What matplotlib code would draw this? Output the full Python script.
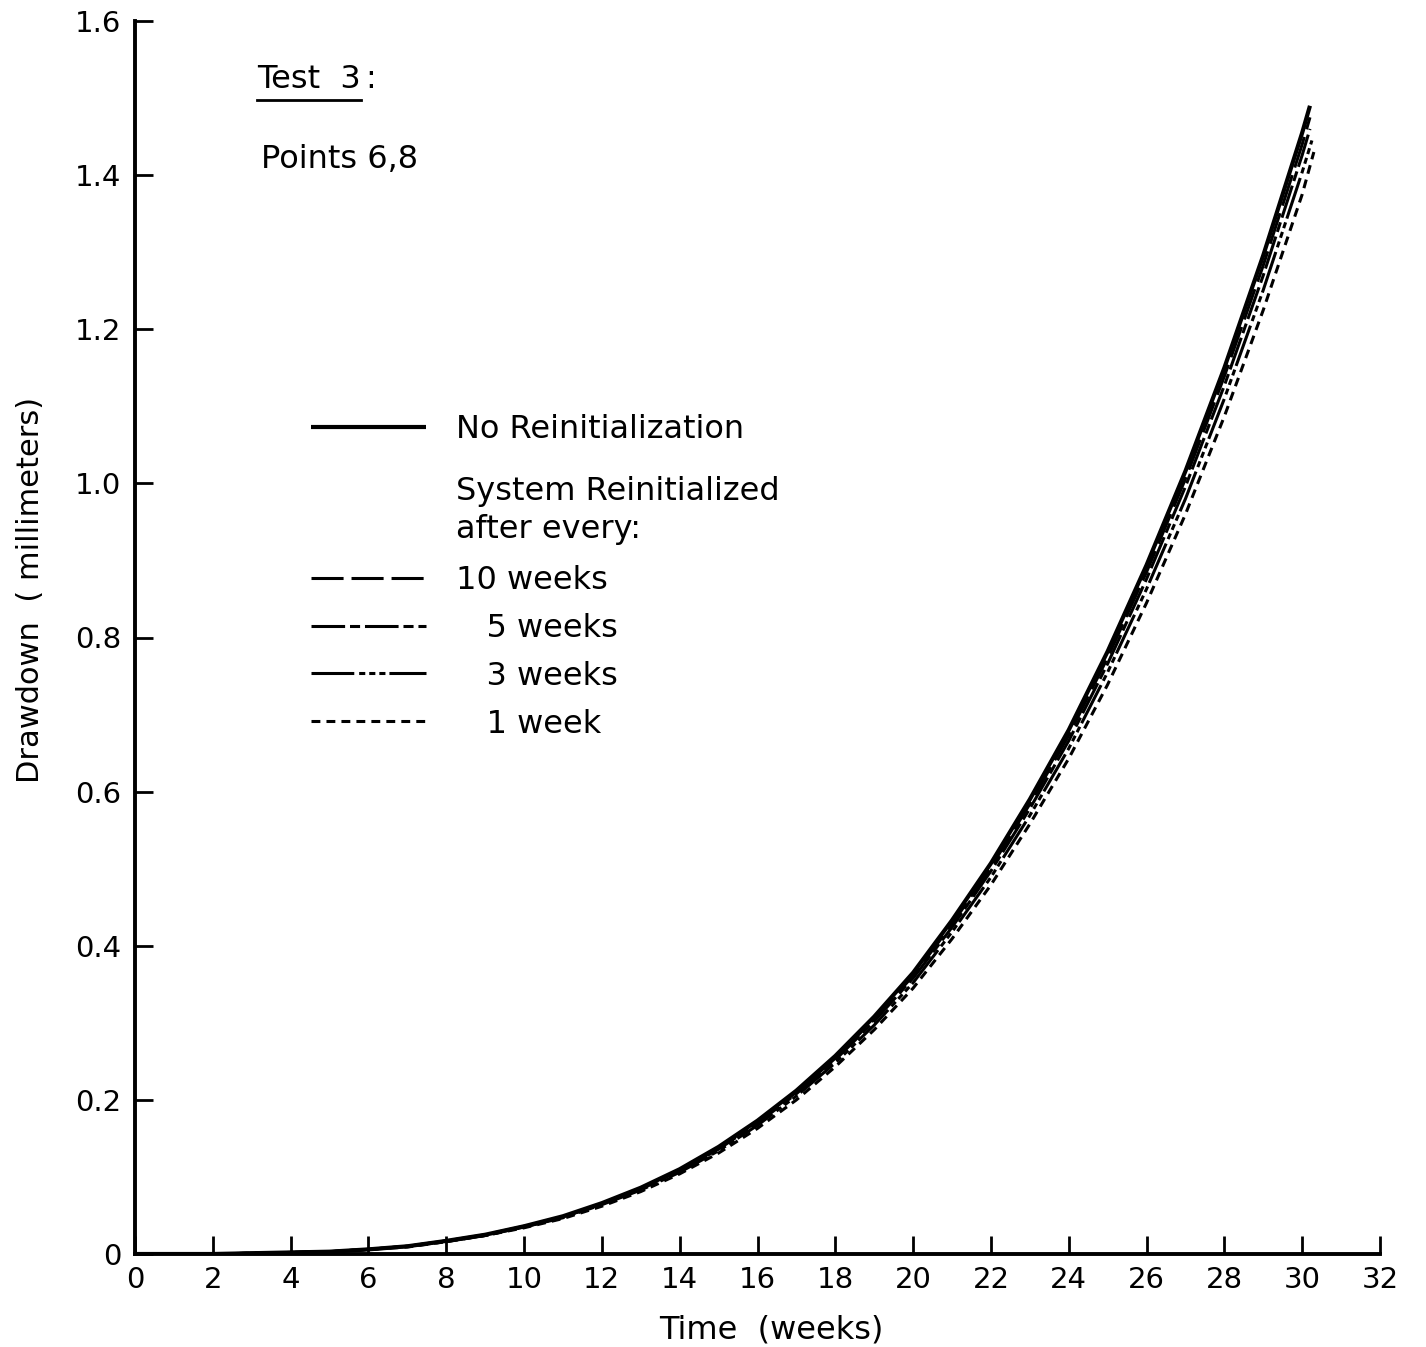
import matplotlib
matplotlib.use('Agg')
import matplotlib.pyplot as plt
from matplotlib.lines import Line2D

#%% ------------------------------- ###
###            0. Data              ###
### ------------------------------- ###

# time in weeks (readings every week, last point is where the curve stops)
weeks = [0, 1, 2, 3, 4, 5, 6, 7, 8, 9, 10, 11, 12, 13, 14, 15, 16, 17, 18, 19,
         20, 21, 22, 23, 24, 25, 26, 27, 28, 29, 30]

# drawdown in millimeters
no_reinit = [0.000, 0.000, 0.000, 0.001, 0.002, 0.003, 0.006, 0.010, 0.017, 0.025,
             0.036, 0.049, 0.066, 0.086, 0.110, 0.139, 0.173, 0.212, 0.257, 0.308,
             0.365, 0.433, 0.507, 0.590, 0.680, 0.782, 0.894, 1.016, 1.150, 1.296,
             1.455]
reinit_10 = [0.000, 0.000, 0.000, 0.001, 0.002, 0.003, 0.006, 0.010, 0.017, 0.025,
             0.036, 0.048, 0.065, 0.085, 0.109, 0.138, 0.171, 0.210, 0.254, 0.305,
             0.361, 0.428, 0.502, 0.584, 0.673, 0.774, 0.885, 1.006, 1.139, 1.283,
             1.440]
reinit_5 = [0.000, 0.000, 0.000, 0.001, 0.002, 0.003, 0.006, 0.010, 0.017, 0.024,
            0.035, 0.048, 0.065, 0.084, 0.108, 0.136, 0.170, 0.208, 0.252, 0.302,
            0.358, 0.424, 0.497, 0.578, 0.666, 0.766, 0.876, 0.996, 1.127, 1.270,
            1.426]
reinit_3 = [0.000, 0.000, 0.000, 0.001, 0.002, 0.003, 0.006, 0.010, 0.016, 0.024,
            0.035, 0.047, 0.064, 0.083, 0.106, 0.134, 0.167, 0.205, 0.248, 0.297,
            0.352, 0.418, 0.489, 0.569, 0.656, 0.755, 0.863, 0.980, 1.110, 1.251,
            1.404]
reinit_1 = [0.000, 0.000, 0.000, 0.001, 0.002, 0.003, 0.006, 0.009, 0.016, 0.024,
            0.034, 0.046, 0.062, 0.081, 0.104, 0.131, 0.163, 0.200, 0.243, 0.291,
            0.345, 0.409, 0.479, 0.558, 0.643, 0.739, 0.845, 0.960, 1.087, 1.225,
            1.375]

# end points of each curve (time, drawdown)
end_no_reinit = (30.2, 1.490)
end_10 = (30.2, 1.475)
end_5 = (30.2, 1.460)
end_3 = (30.25, 1.445)
end_1 = (30.3, 1.430)

x_ticks = list(range(0, 33, 2))
y_ticks = [0, 0.2, 0.4, 0.6, 0.8, 1.0, 1.2, 1.4, 1.6]
y_tick_labels = ['0', '0.2', '0.4', '0.6', '0.8', '1.0', '1.2', '1.4', '1.6']

#%% ------------------------------- ###
###            1. Plot              ###
### ------------------------------- ###

plt.rcParams['font.family'] = ['DejaVu Sans']
fs = 23

W, H = 1426, 1347
fig = plt.figure(figsize=(W / 100, H / 100), dpi=100)

x0_px, x1_px, y0_px, y1_px = 135, 1380, 1254, 21
ax = fig.add_axes([x0_px / W, 1 - y0_px / H, (x1_px - x0_px) / W, (y0_px - y1_px) / H])

lw = 2.2
series = [
    (no_reinit, end_no_reinit, dict(color='black', lw=3.0, ls='-'), 'No Reinitialization'),
    (reinit_10, end_10, dict(color='black', lw=lw, dashes=(10.5, 2.6)), '10 weeks'),
    (reinit_5, end_5, dict(color='black', lw=lw, dashes=(11, 1.6, 3.3, 1.6)), '\u2007 5 weeks'),
    (reinit_3, end_3, dict(color='black', lw=lw, dashes=(14, 1.6, 2, 1.3, 2, 1.3, 2, 1.3)), '\u2007 3 weeks'),
    (reinit_1, end_1, dict(color='black', lw=lw, dashes=(2.9, 2.0)), '\u2007 1 week'),
]

handles = []
labels = []
for vals, end, style, label in series:
    t = list(weeks) + [end[0]]
    v = list(vals) + [end[1]]
    line, = ax.plot(t, v, solid_capstyle='butt', dash_capstyle='butt', **style)
    handles.append(line)
    labels.append(label)

ax.set_xlim(0, 32)
ax.set_ylim(0, 1.6)
ax.set_xticks(x_ticks)
ax.set_xticklabels([str(x) for x in x_ticks], fontsize=21)
ax.set_yticks(y_ticks)
ax.set_yticklabels(y_tick_labels, fontsize=21)
ax.tick_params(axis='both', direction='in', length=13, width=2, color='black')
ax.tick_params(axis='x', pad=9)
ax.tick_params(axis='y', pad=10)

for side in ['top', 'right']:
    ax.spines[side].set_visible(False)
for side in ['left', 'bottom']:
    ax.spines[side].set_linewidth(2.8)

ax.set_xlabel('Time  (weeks)', fontsize=fs)
ax.set_ylabel('Drawdown  ( millimeters)', fontsize=22)
ax.xaxis.set_label_coords(0.511, -0.049)
ax.yaxis.set_label_coords(-0.072, 0.5385)

# legend in two parts: reference run + header, then the reinitialized runs
leg_kw = dict(loc='upper left', frameon=False, fontsize=fs, handlelength=3.6,
              handletextpad=0.95, borderpad=0, borderaxespad=0)
header = Line2D([], [], color='none')
leg1 = ax.legend([handles[0], header], [labels[0], 'System Reinitialized\nafter every:'],
                 bbox_to_anchor=(0.141, 0.681), labelspacing=0.95, **leg_kw)
leg1.get_texts()[1].set_linespacing(1.3)
ax.add_artist(leg1)
leg2 = ax.legend(handles[1:], labels[1:], bbox_to_anchor=(0.141, 0.559),
                 labelspacing=0.53, **leg_kw)

# title block
t_test = ax.text(0.098, 0.946, 'Test  3', transform=ax.transAxes, fontsize=fs,
                 ha='left', va='baseline')
ax.text(0.101, 0.881, 'Points 6,8', transform=ax.transAxes, fontsize=fs,
        ha='left', va='baseline')

fig.canvas.draw()
bb = t_test.get_window_extent().transformed(fig.transFigure.inverted())
fig.add_artist(Line2D([bb.x0, bb.x1], [bb.y0 - 0.004, bb.y0 - 0.004],
                      transform=fig.transFigure, color='black', lw=2))
fig.text(bb.x1 + 0.003, bb.y0 + 0.005, ':', fontsize=fs, ha='left', va='baseline')

fig.savefig('out.png', dpi=100)
